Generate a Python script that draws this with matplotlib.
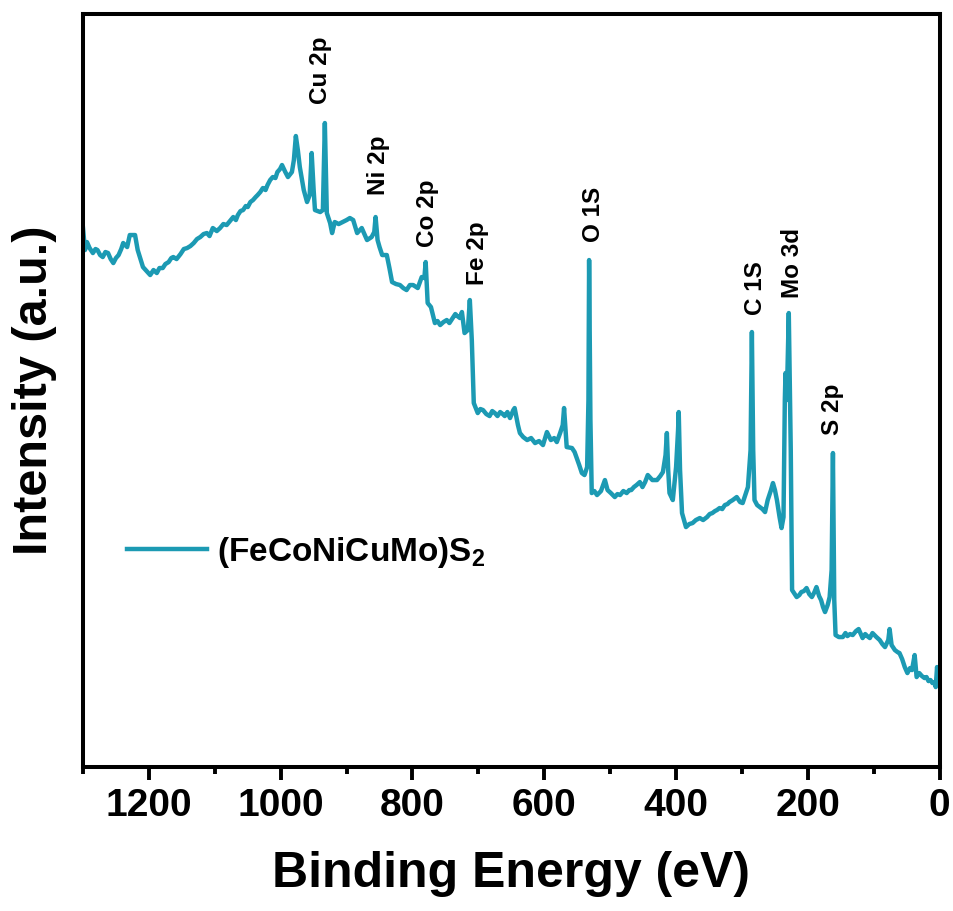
import matplotlib.pyplot as plt
from matplotlib.ticker import MultipleLocator

plt.rcParams['font.family'] = ['Liberation Sans', 'DejaVu Sans']
plt.rcParams['font.weight'] = 'bold'
plt.rcParams['mathtext.fontset'] = 'custom'
plt.rcParams['mathtext.rm'] = 'Liberation Sans:bold'
plt.rcParams['mathtext.default'] = 'rm'

# XPS survey spectrum (binding energy in eV, intensity in a.u.)
energy = [1300, 1297, 1294, 1290, 1285, 1281, 1278, 1274, 1270, 1266, 1262, 1258,
          1254, 1250, 1246, 1242, 1239, 1233, 1229, 1221, 1217, 1209, 1198, 1193,
          1188, 1184, 1179, 1175, 1170, 1166, 1163, 1158, 1152, 1147, 1142, 1137,
          1132, 1127, 1122, 1117, 1112, 1108, 1103, 1097, 1092, 1087, 1082, 1077,
          1072, 1068, 1065, 1061, 1057, 1053, 1050, 1046, 1042, 1038, 1035, 1031,
          1027, 1023, 1020, 1016, 1012, 1008, 1005, 1001, 998, 993, 989, 983, 980,
          977, 974, 971, 965, 960, 956, 953, 950, 948, 940, 936, 933, 930, 925,
          922, 918, 912, 906, 900, 895, 890, 884, 877, 869, 862, 858, 856, 853,
          850, 846, 839, 835, 831, 825, 819, 814, 809, 804, 799, 792, 786, 782,
          780, 777, 772, 766, 762, 758, 753, 748, 744, 739, 735, 732, 728, 725,
          721, 716, 713, 710, 707, 701, 697, 693, 688, 683, 679, 675, 671, 667,
          663, 660, 656, 652, 647, 645, 640, 637, 632, 626, 620, 614, 608, 602,
          596, 590, 585, 581, 576, 572, 570, 566, 558, 554, 547, 543, 539, 535,
          533, 532, 530, 528, 524, 520, 514, 508, 504, 499, 493, 489, 485, 480,
          475, 471, 468, 464, 460, 455, 451, 447, 443, 436, 429, 424, 420, 416,
          414, 412, 410, 405, 400, 397, 396, 394, 391, 385, 380, 375, 370, 364,
          359, 353, 349, 345, 341, 338, 334, 330, 326, 322, 319, 314, 308, 303,
          299, 291, 287, 285, 283, 281, 277, 273, 269, 265, 261, 256, 253, 250,
          247, 243, 240, 237, 235, 234, 232, 229, 226, 224, 221, 217, 213, 210,
          206, 202, 198, 194, 190, 187, 183, 180, 177, 174, 170, 167, 164, 162,
          160, 158, 153, 147, 143, 140, 136, 132, 127, 123, 117, 113, 110, 106,
          102, 96, 91, 87, 83, 78, 76, 73, 68, 64, 61, 57, 53, 49, 45, 42, 38,
          35, 31, 27, 23, 20, 17, 14, 11, 8, 6, 4, 2, 0]
intensity = [539, 517, 525, 519, 514, 518, 517, 512, 510, 515, 514, 508,
             504, 509, 512, 518, 524, 520, 532, 532, 517, 500, 492, 497,
             494, 499, 499, 503, 505, 509, 510, 508, 513, 518, 519, 521,
             524, 528, 530, 533, 534, 531, 539, 536, 539, 543, 542, 546,
             550, 547, 552, 556, 557, 561, 560, 565, 567, 570, 572, 575,
             579, 577, 582, 587, 590, 589, 595, 598, 602, 595, 590, 595, 607,
             631, 617, 600, 577, 565, 572, 614, 577, 557, 555, 557, 644, 554, 544,
             534, 545, 543, 545, 547, 549, 547, 534, 539, 527, 530, 535, 550, 527,
             520, 512, 512, 499, 485, 483, 482, 479, 477, 482, 482, 479, 490, 489,
             505, 464, 460, 444, 446, 442, 445, 447, 444, 449, 453, 451, 449, 455,
             434, 437, 467, 427, 364, 354, 358, 357, 353, 351, 356, 354, 351, 355,
             353, 351, 355, 349, 357, 359, 342, 334, 330, 327, 329, 324, 326, 322,
             335, 327, 329, 325, 334, 342, 359, 320, 319, 315, 302, 294, 292, 300,
             367, 507, 347, 274, 276, 272, 276, 287, 277, 274, 270, 273, 272, 276,
             274, 277, 277, 280, 282, 285, 280, 285, 292, 287, 287, 291, 295, 312,
             334, 297, 274, 267, 300, 337, 355, 297, 254, 240, 243, 244, 247, 249,
             247, 250, 253, 254, 256, 257, 259, 258, 262, 263, 265, 267, 270, 265,
             264, 280, 317, 435, 317, 267, 262, 260, 258, 255, 267, 277, 284, 277,
             267, 250, 239, 250, 367, 394, 367, 454, 317, 177, 174, 170, 172, 175,
             176, 179, 173, 170, 175, 180, 171, 167, 160, 155, 162, 170, 197, 314,
             167, 132, 130, 130, 134, 131, 133, 132, 136, 138, 129, 133, 131, 129,
             134, 130, 127, 123, 120, 127, 138, 122, 117, 115, 114, 108, 100, 94,
             99, 97, 112, 90, 94, 91, 89, 90, 86, 87, 84, 85, 80, 100, 89, 82]

# Peak assignments and where their labels sit
peak_names = ['Cu 2p', 'Ni 2p', 'Co 2p', 'Fe 2p', 'O 1S', 'C 1S', 'Mo 3d', 'S 2p']
label_x = [940, 852, 777, 702, 526, 279, 223, 162]
label_y = [663, 572, 520, 482, 525, 452, 469, 332]

color = '#1c9ab3'

fig = plt.figure(figsize=(9.54, 9.11), dpi=100)
ax = fig.add_axes([0.087, 0.158, 0.898, 0.8266])

ax.plot(energy, intensity, color=color, lw=3.2, label='(FeCoNiCuMo)S$_2$',
        solid_joinstyle='round')

for name, x, y in zip(peak_names, label_x, label_y):
    ax.text(x, y, name, rotation=90, ha='center', va='bottom',
            fontsize=17.5, fontweight='bold')

ax.set_xlim(1300, 0)
ax.set_ylim(0, 753)
ax.xaxis.set_major_locator(MultipleLocator(200))
ax.xaxis.set_minor_locator(MultipleLocator(100))
ax.set_yticks([])
ax.tick_params(axis='x', which='major', direction='out', length=9, width=2.8,
               labelsize=28, pad=6)
ax.tick_params(axis='x', which='minor', direction='out', length=5, width=2.8)
for lab in ax.get_xticklabels():
    lab.set_fontweight('bold')
for sp in ax.spines.values():
    sp.set_linewidth(2.9)

ax.set_xlabel('Binding Energy (eV)', fontsize=36, fontweight='bold')
ax.xaxis.set_label_coords(0.5, -0.112)
ax.set_ylabel('Intensity (a.u.)', fontsize=35, fontweight='bold')
ax.yaxis.set_label_coords(-0.03, 0.5)

ax.legend(loc='center left', bbox_to_anchor=(0.051, 0.2855), frameon=False,
          fontsize=24, handlelength=2.4, handletextpad=0.3, borderpad=0,
          borderaxespad=0)

fig.savefig('out.png', dpi=100)
